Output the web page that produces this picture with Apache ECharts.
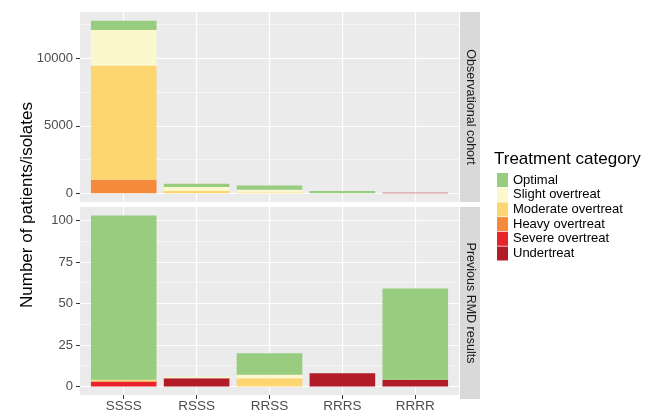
<!DOCTYPE html>
<html>
<head>
<meta charset="utf-8">
<script src="https://cdn.jsdelivr.net/npm/echarts@6/dist/echarts.min.js"></script>
<style>
  html, body { margin: 0; padding: 0; background: #fff; }
  #chart { width: 654px; height: 413px; }
</style>
</head>
<body>
<div id="chart"></div>
<script>
const genotypes = ['SSSS', 'RSSS', 'RRSS', 'RRRS', 'RRRR']
const treatmentCategories = ['Optimal', 'Slight overtreat', 'Moderate overtreat', 'Heavy overtreat', 'Severe overtreat', 'Undertreat']
const categoryColors = ['#98cd7f', '#fbf8cd', '#fdd571', '#f48a3b', '#e8232a', '#b21b28']
const panelNames = ['Observational cohort', 'Previous RMD results']

// observational cohort (patients), one value per genotype
const obsOptimal = [700, 250, 320, 170, 0]
const obsSlight = [2620, 300, 200, 0, 0]
const obsModerate = [8480, 170, 70, 0, 0]
const obsHeavy = [1000, 0, 0, 0, 0]
const obsSevere = [0, 0, 0, 0, 0]
const obsUnder = [0, 0, 0, 0, 50]

// previous RMD results (isolates)
const rmdOptimal = [99, 0, 13, 0, 55]
const rmdSlight = [0, 1, 2, 0, 0]
const rmdModerate = [1, 0, 5, 0, 0]
const rmdHeavy = [0, 0, 0, 0, 0]
const rmdSevere = [3, 0, 0, 0, 0]
const rmdUnder = [0, 5, 0, 8, 4]

const topTicks = [0, 5000, 10000]
const topMinorTicks = [2500, 7500, 12500]
const bottomTicks = [0, 25, 50, 75, 100]
const bottomMinorTicks = [12.5, 37.5, 62.5, 87.5]

const obsData = [obsOptimal, obsSlight, obsModerate, obsHeavy, obsSevere, obsUnder]
const rmdData = [rmdOptimal, rmdSlight, rmdModerate, rmdHeavy, rmdSevere, rmdUnder]

const FONT = 'Liberation Sans, Arial, sans-serif'
const xPos = genotypes.map((g, i) => i)

// ggplot style expansion: 5% below and above the stacked maximum
const expandRange = (sets) => {
  const totals = genotypes.map((g, i) => sets.reduce((s, arr) => s + arr[i], 0))
  const m = Math.max(...totals)
  return [-0.05 * m, 1.05 * m]
}
const obsRange = expandRange(obsData)
const rmdRange = expandRange(rmdData)

const mainY = (grid, range, ticks) => ({
  type: 'value', gridIndex: grid, min: range[0], max: range[1], position: 'left',
  axisLine: { show: false, onZero: false },
  axisTick: { show: true, length: 4, customValues: ticks, lineStyle: { color: '#333' } },
  axisLabel: {
    customValues: ticks, color: '#4d4d4d', fontSize: 13, fontFamily: FONT, margin: 7,
    formatter: (v) => String(v),
  },
  splitLine: { show: true, lineStyle: { color: '#fff', width: 1.2 } },
})
const minorY = (grid, range, ticks) => ({
  type: 'value', gridIndex: grid, min: range[0], max: range[1], position: 'right',
  axisLine: { show: false, onZero: false },
  axisTick: { show: false, customValues: ticks },
  axisLabel: { show: false },
  splitLine: { show: true, lineStyle: { color: '#fff', width: 0.5 } },
})
const xAx = (grid, showLabels) => ({
  type: 'value', gridIndex: grid, min: -0.6, max: genotypes.length - 0.4, position: 'bottom',
  axisLine: { show: false, onZero: false },
  axisTick: { show: showLabels, length: 4, customValues: xPos, lineStyle: { color: '#333' } },
  axisLabel: {
    show: showLabels, customValues: xPos, color: '#4d4d4d', fontSize: 13.5, fontFamily: FONT, margin: 4,
    formatter: (v) => genotypes[Math.round(v)],
  },
  splitLine: { show: true, lineStyle: { color: '#fff', width: 1.2 } },
})

// stack from the bottom: Undertreat first, Optimal on top.
// value first in each pair so that the stacked dimension is the count
const makeSeries = (sets, grid, stack) => treatmentCategories.map((name, k) => k).reverse().map(k => ({
  name: treatmentCategories[k],
  type: 'bar',
  xAxisIndex: grid, yAxisIndex: grid * 2,
  stack,
  barWidth: '90%',
  encode: { x: 1, y: 0 },
  itemStyle: { color: categoryColors[k] },
  data: sets[k].map((v, i) => [v, i]),
}))

const chart = echarts.init(document.getElementById('chart'), null, { renderer: 'canvas' })
chart.setOption({
  animation: false,
  backgroundColor: '#fff',
  title: {
    text: 'Treatment category', left: 494, top: 151, padding: 0,
    textStyle: { fontSize: 17, fontWeight: 'normal', color: '#000', fontFamily: FONT },
  },
  legend: {
    data: treatmentCategories,
    orient: 'vertical', left: 497, top: 173, padding: 0,
    icon: 'rect', itemWidth: 11, itemHeight: 14, itemGap: 0.7,
    selectedMode: false,
    textStyle: { fontSize: 13, color: '#000', fontFamily: FONT, lineHeight: 14 },
  },
  grid: [
    { left: 80, top: 12, width: 379, height: 190, show: true, backgroundColor: '#ebebeb', borderWidth: 0 },
    { left: 80, top: 207, width: 379, height: 192, show: true, backgroundColor: '#ebebeb', borderWidth: 0 },
  ],
  xAxis: [xAx(0, false), xAx(1, true)],
  yAxis: [
    mainY(0, obsRange, topTicks), minorY(0, obsRange, topMinorTicks),
    mainY(1, rmdRange, bottomTicks), minorY(1, rmdRange, bottomMinorTicks),
  ],
  graphic: [
    { type: 'rect', shape: { x: 460, y: 12, width: 20, height: 190 }, style: { fill: '#d9d9d9' } },
    { type: 'rect', shape: { x: 460, y: 207, width: 20, height: 192 }, style: { fill: '#d9d9d9' } },
    {
      type: 'text', x: 470, y: 107, rotation: -Math.PI / 2,
      style: { text: panelNames[0], fontSize: 12.5, fill: '#1a1a1a', fontFamily: FONT, align: 'center', verticalAlign: 'middle' },
    },
    {
      type: 'text', x: 470, y: 303, rotation: -Math.PI / 2,
      style: { text: panelNames[1], fontSize: 12.5, fill: '#1a1a1a', fontFamily: FONT, align: 'center', verticalAlign: 'middle' },
    },
    {
      type: 'text', x: 27, y: 205, rotation: Math.PI / 2,
      style: { text: 'Number of patients/isolates', fontSize: 17, fill: '#000', fontFamily: FONT, align: 'center', verticalAlign: 'middle' },
    },
  ],
  series: [...makeSeries(obsData, 0, 'obs'), ...makeSeries(rmdData, 1, 'rmd')],
})
</script>
</body>
</html>
